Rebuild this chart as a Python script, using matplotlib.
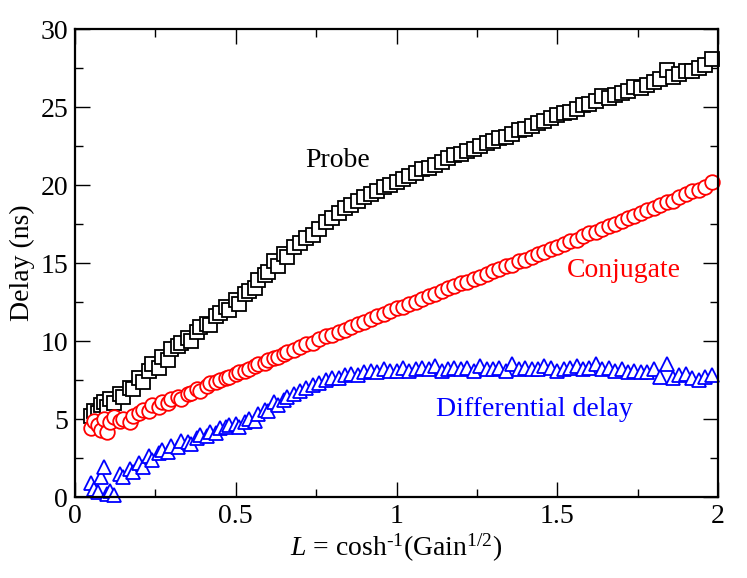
import matplotlib
matplotlib.use("Agg")
import matplotlib.pyplot as plt
from matplotlib.ticker import MultipleLocator

plt.rcParams['font.family'] = ['Liberation Serif', 'DejaVu Serif']
plt.rcParams['mathtext.fontset'] = 'custom'
plt.rcParams['mathtext.rm'] = 'Liberation Serif'
plt.rcParams['mathtext.it'] = 'Liberation Serif:italic'

gain_L = [0.05, 0.06, 0.07, 0.08, 0.09, 0.10, 0.11, 0.12, 0.14, 0.15,
          0.17, 0.18, 0.20, 0.21, 0.23, 0.24, 0.26, 0.27, 0.29, 0.30,
          0.32, 0.33, 0.35, 0.36, 0.38, 0.39, 0.41, 0.42, 0.44, 0.45,
          0.47, 0.48, 0.50, 0.51, 0.53, 0.54, 0.56, 0.57, 0.59, 0.60,
          0.62, 0.63, 0.65, 0.66, 0.68, 0.70, 0.72, 0.74, 0.76, 0.78,
          0.80, 0.82, 0.84, 0.86, 0.88, 0.90, 0.92, 0.94, 0.96, 0.98,
          1.00, 1.02, 1.04, 1.06, 1.08, 1.10, 1.12, 1.14, 1.16, 1.18,
          1.20, 1.22, 1.24, 1.26, 1.28, 1.30, 1.32, 1.34, 1.36, 1.38,
          1.40, 1.42, 1.44, 1.46, 1.48, 1.50, 1.52, 1.54, 1.56, 1.58,
          1.60, 1.62, 1.64, 1.66, 1.68, 1.70, 1.72, 1.74, 1.76, 1.78,
          1.80, 1.82, 1.84, 1.86, 1.88, 1.90, 1.92, 1.94, 1.96, 1.98]

probe = [5.2, 5.5, 5.4, 5.9, 6.1, 5.8, 6.3, 6.0, 6.6, 6.4,
         7.0, 6.9, 7.6, 7.4, 8.1, 8.5, 8.3, 9.0, 8.8, 9.5,
         9.7, 9.9, 10.2, 10.0, 10.6, 10.9, 11.1, 11.0, 11.6, 11.8,
         12.2, 12.0, 12.6, 12.4, 13.0, 13.2, 13.4, 13.9, 14.2, 14.4,
         15.1, 14.8, 15.6, 15.4, 16.0, 16.3, 16.6, 16.8, 17.2, 17.6,
         17.9, 18.2, 18.5, 18.7, 19.0, 19.2, 19.4, 19.6, 19.9, 20.0,
         20.2, 20.4, 20.6, 20.8, 21.0, 21.1, 21.3, 21.5, 21.7, 21.9,
         22.0, 22.2, 22.3, 22.5, 22.7, 22.8, 23.0, 23.1, 23.3, 23.5,
         23.6, 23.8, 24.0, 24.1, 24.3, 24.5, 24.6, 24.7, 24.9, 25.1,
         25.2, 25.4, 25.7, 25.6, 25.8, 25.9, 26.0, 26.3, 26.2, 26.4,
         26.6, 26.8, 27.4, 26.9, 27.1, 27.3, 27.3, 27.5, 27.7, 28.1]

conjugate = [4.4, 4.9, 4.6, 4.3, 5.0, 4.2, 4.8, 5.1, 4.9, 5.0,
             4.8, 5.2, 5.4, 5.6, 5.5, 5.9, 5.8, 6.1, 6.0, 6.3,
             6.4, 6.3, 6.6, 6.7, 6.9, 6.8, 7.1, 7.3, 7.4, 7.5,
             7.6, 7.7, 7.9, 8.0, 8.1, 8.2, 8.4, 8.5, 8.6, 8.8,
             8.9, 9.0, 9.2, 9.3, 9.4, 9.6, 9.8, 9.9, 10.1, 10.3,
             10.4, 10.6, 10.7, 10.9, 11.1, 11.2, 11.4, 11.6, 11.7, 11.9,
             12.1, 12.2, 12.4, 12.5, 12.7, 12.9, 13.0, 13.2, 13.4, 13.5,
             13.7, 13.8, 14.0, 14.1, 14.3, 14.5, 14.6, 14.8, 14.9, 15.1,
             15.2, 15.4, 15.6, 15.7, 15.9, 16.0, 16.2, 16.4, 16.5, 16.7,
             16.9, 17.0, 17.2, 17.4, 17.5, 17.7, 17.9, 18.0, 18.2, 18.4,
             18.5, 18.7, 18.9, 19.0, 19.2, 19.4, 19.6, 19.7, 19.9, 20.2]

differential = [0.9, 0.5, 0.3, 1.3, 1.9, 0.2, 0.4, 0.1, 1.5, 1.3,
                1.8, 1.6, 2.2, 1.9, 2.6, 2.4, 2.8, 3.0, 2.9, 3.3,
                3.2, 3.6, 3.5, 3.4, 3.8, 4.0, 3.9, 4.2, 4.1, 4.4,
                4.5, 4.6, 4.7, 4.5, 4.8, 5.0, 4.9, 5.3, 5.6, 5.5,
                6.1, 5.9, 6.2, 6.4, 6.6, 6.8, 7.0, 7.2, 7.3, 7.5,
                7.6, 7.6, 7.8, 7.9, 7.8, 8.0, 8.1, 8.0, 8.2, 8.1,
                8.1, 8.3, 8.1, 8.2, 8.3, 8.2, 8.4, 8.1, 8.2, 8.3,
                8.2, 8.3, 8.1, 8.4, 8.2, 8.2, 8.3, 8.1, 8.5, 8.2,
                8.3, 8.2, 8.2, 8.4, 8.3, 8.1, 8.2, 8.3, 8.4, 8.2,
                8.3, 8.5, 8.2, 8.3, 8.1, 8.2, 8.0, 8.1, 8.0, 8.0,
                8.2, 7.7, 8.5, 7.6, 7.8, 7.9, 7.6, 7.5, 7.7, 7.8]

fig = plt.figure(figsize=(7.47, 5.78), dpi=100)
ax = fig.add_axes([0.1004, 0.1401, 0.8608, 0.8097])

mk = dict(linestyle='none', markersize=10.5, markeredgewidth=1.3,
          markerfacecolor='white', clip_on=False)
ax.plot(gain_L, probe, marker='s', color='black', **mk)
ax.plot(gain_L, conjugate, marker='o', color='red', **mk)
ax.plot(gain_L, differential, marker='^', color='blue', **mk)

ax.set_xlim(0, 2)
ax.set_ylim(0, 30)
ax.xaxis.set_major_locator(MultipleLocator(0.5))
ax.xaxis.set_minor_locator(MultipleLocator(0.25))
ax.yaxis.set_major_locator(MultipleLocator(5))
ax.yaxis.set_minor_locator(MultipleLocator(2.5))
ax.tick_params(which='both', direction='in', top=True, right=True,
               labelsize=20, pad=5, width=1)
ax.tick_params(which='major', length=11)
ax.tick_params(which='minor', length=6)
for s in ax.spines.values():
    s.set_linewidth(1.6)

ax.xaxis.set_major_formatter(plt.FuncFormatter(lambda v, p: f'{v:g}'))
ax.yaxis.set_major_formatter(plt.FuncFormatter(lambda v, p: f'{v:g}'))

ax.set_xlabel(r'$L$ = cosh$^{\text{-1}}$(Gain$^{\text{1/2}}$)', fontsize=20, labelpad=2)
ax.set_ylabel('Delay (ns)', fontsize=20, labelpad=4)

ax.text(0.818, 21.6, 'Probe', color='black', fontsize=20, ha='center', va='center')
ax.text(1.708, 14.5, 'Conjugate', color='red', fontsize=20, ha='center', va='center')
ax.text(1.43, 5.6, 'Differential delay', color='blue', fontsize=20, ha='center', va='center')

fig.savefig('out.png', dpi=100)
